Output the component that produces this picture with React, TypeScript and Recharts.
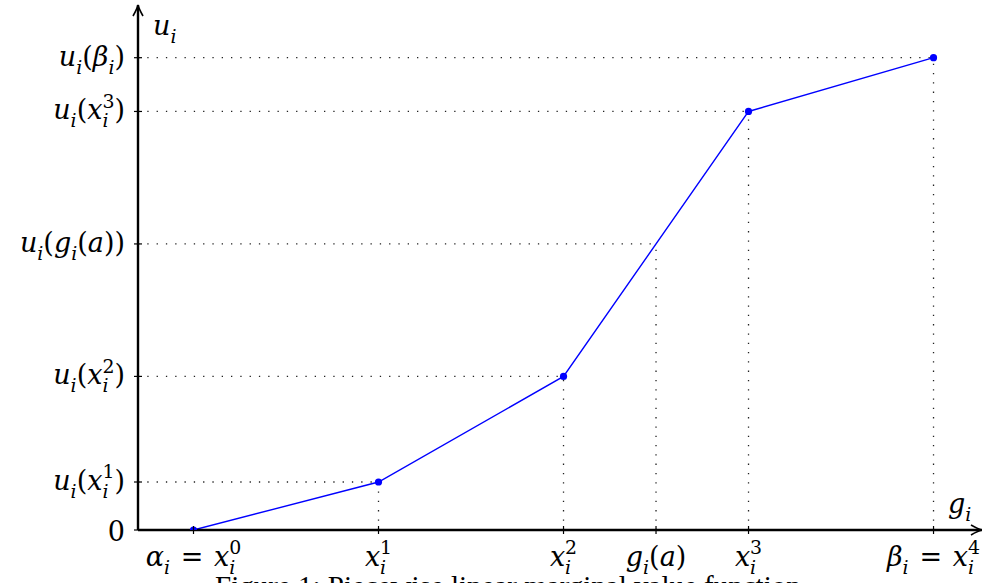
import { LineChart, Line, XAxis, YAxis, ReferenceLine, ReferenceDot } from "recharts";

// knots of the piecewise linear marginal value function
const knotG = [1, 2, 3, 4, 5];
const knotU = [0, 0.5, 1.6, 4.36, 4.92];
const gA = 3.5;
const uGA = 2.98;

const xTickValues = [1, 2, 3, 3.5, 4, 5];
const xTickLabels = ["α_{i} = x_{i}^{0}", "x_{i}^{1}", "x_{i}^{2}", "g_{i}(a)", "x_{i}^{3}", "β_{i} = x_{i}^{4}"];
const yTickValues = [0, 0.5, 1.6, 2.98, 4.36, 4.92];
const yTickLabels = ["0", "u_{i}(x_{i}^{1})", "u_{i}(x_{i}^{2})", "u_{i}(g_{i}(a))", "u_{i}(x_{i}^{3})", "u_{i}(β_{i})"];
const caption = "Figure 1: Piecewise linear marginal value function";

const X_MIN = 0.7;
const X_MAX = 5.262;
const Y_MAX = 5.469;

const data = knotG.map((g, i) => ({ g, u: knotU[i] }));

type Seg = { text: string; kind: "base" | "sub" | "sup" };

function parseMath(src: string): Seg[] {
  const out: Seg[] = [];
  let i = 0;
  while (i < src.length) {
    const c = src[i];
    if ((c === "_" || c === "^") && src[i + 1] === "{") {
      const end = src.indexOf("}", i);
      out.push({ text: src.slice(i + 2, end), kind: c === "_" ? "sub" : "sup" });
      i = end + 1;
    } else {
      out.push({ text: c, kind: "base" });
      i++;
    }
  }
  return out;
}

const charWidth = (t: string, size: number) =>
  t.split("").reduce((w, ch) => w + (ch === "i" ? 0.32 : 0.64) * size, 0);

function MathText({ x, y, src, size = 27, anchor = "middle" }: { x: number; y: number; src: string; size?: number; anchor?: string }) {
  const segs = parseMath(src);
  const small = size * 0.7;
  let shift = 0;
  const nodes: any[] = [];
  segs.forEach((s, k) => {
    const target = s.kind === "sub" ? size * 0.29 : s.kind === "sup" ? -size * 0.44 : 0;
    const dy = target - shift;
    shift = target;
    const prev = segs[k - 1];
    const dx = s.kind === "sup" && prev && prev.kind === "sub" ? -charWidth(prev.text, small) : 0;
    s.text.split("").forEach((ch, j) => {
      const extra = ch === " " ? size * 0.08 : 0;
      nodes.push(
        <tspan
          key={`${k}-${j}`}
          dy={j === 0 && dy !== 0 ? dy : undefined}
          dx={(j === 0 ? dx : 0) + extra || undefined}
          fontSize={s.kind === "base" ? size : small}
          fontStyle={/[a-zA-Zα-ω]/.test(ch) ? "italic" : "normal"}
        >
          {ch === " " ? "\u00a0" : ch}
        </tspan>
      );
    });
  });
  return (
    <text x={x} y={y} textAnchor={anchor as any} fontFamily="'DejaVu Serif', serif" fontSize={size} fill="#000">
      {nodes}
    </text>
  );
}

function XTick(props: any) {
  const { x, y, payload } = props;
  const idx = xTickValues.indexOf(payload.value);
  return (
    <g>
      <line x1={x} x2={x} y1={y - 4} y2={y + 4} stroke="#000" strokeWidth={1.2} />
      <MathText x={x} y={y + 36} src={xTickLabels[idx]} />
    </g>
  );
}

function YTick(props: any) {
  const { x, y, payload } = props;
  const idx = yTickValues.indexOf(payload.value);
  const label = yTickLabels[idx];
  return (
    <g>
      <line x1={x - 4} x2={x + 4} y1={y} y2={y} stroke="#000" strokeWidth={1.2} />
      <MathText x={x - 13} y={y + (label === "0" ? 11 : 8)} src={label} anchor="end" />
    </g>
  );
}

function ArrowUp(props: any) {
  const { cx, cy } = props;
  return (
    <g>
      <path
        d={`M${cx - 5},${cy + 11} Q${cx - 1},${cy + 4} ${cx},${cy} Q${cx + 1},${cy + 4} ${cx + 5},${cy + 11}`}
        fill="none"
        stroke="#000"
        strokeWidth={1.6}
      />
      <MathText x={cx + 15} y={cy + 30} src="u_{i}" anchor="start" />
    </g>
  );
}

function ArrowRight(props: any) {
  const { cx, cy } = props;
  return (
    <g>
      <path
        d={`M${cx - 11},${cy - 5} Q${cx - 4},${cy - 1} ${cx},${cy} Q${cx - 4},${cy + 1} ${cx - 11},${cy + 5}`}
        fill="none"
        stroke="#000"
        strokeWidth={1.6}
      />
      <MathText x={cx - 34} y={cy - 17} src="g_{i}" anchor="start" />
    </g>
  );
}

const dotted = { stroke: "#222", strokeWidth: 1.3, strokeDasharray: "1.3 8" };

export default function App() {
  const guides = [...knotG.slice(1).map((g, i) => ({ g, u: knotU[i + 1] })), { g: gA, u: uGA }];
  return (
    <div style={{ position: "absolute", left: 0, top: 0, width: 982, height: 583, overflow: "hidden", background: "#fff" }}>
      <LineChart width={982} height={583} data={data} margin={{ top: 5, right: 0, bottom: 0, left: 0 }}>
        {guides.map((p) => (
          <ReferenceLine key={`h${p.g}`} segment={[{ x: X_MIN, y: p.u }, { x: p.g, y: p.u }]} {...dotted} ifOverflow="visible" />
        ))}
        {guides.map((p) => (
          <ReferenceLine key={`v${p.g}`} segment={[{ x: p.g, y: 0 }, { x: p.g, y: p.u }]} {...dotted} ifOverflow="visible" />
        ))}
        <XAxis
          dataKey="g"
          type="number"
          domain={[X_MIN, X_MAX]}
          allowDataOverflow
          ticks={xTickValues}
          interval={0}
          height={53}
          tickSize={0}
          tickMargin={0}
          tickLine={false}
          axisLine={{ stroke: "#000", strokeWidth: 2.4 }}
          tick={<XTick />}
        />
        <YAxis
          type="number"
          domain={[0, Y_MAX]}
          allowDataOverflow
          ticks={yTickValues}
          interval={0}
          width={138}
          tickSize={0}
          tickMargin={0}
          tickLine={false}
          axisLine={{ stroke: "#000", strokeWidth: 2.4 }}
          tick={<YTick />}
        />
        <ReferenceDot x={X_MIN} y={Y_MAX} ifOverflow="visible" shape={<ArrowUp />} />
        <ReferenceDot x={X_MAX} y={0} ifOverflow="visible" shape={<ArrowRight />} />
        <Line
          type="linear"
          dataKey="u"
          stroke="#0000ff"
          strokeWidth={1.4}
          dot={{ r: 3.6, fill: "#0000ff", stroke: "none" }}
          activeDot={false}
          isAnimationActive={false}
        />
      </LineChart>
      <div
        style={{
          position: "absolute",
          left: 215,
          top: 572,
          fontFamily: "'Liberation Serif', serif",
          fontSize: 29,
          lineHeight: "28px",
          whiteSpace: "nowrap",
        }}
      >
        {caption}
      </div>
    </div>
  );
}
